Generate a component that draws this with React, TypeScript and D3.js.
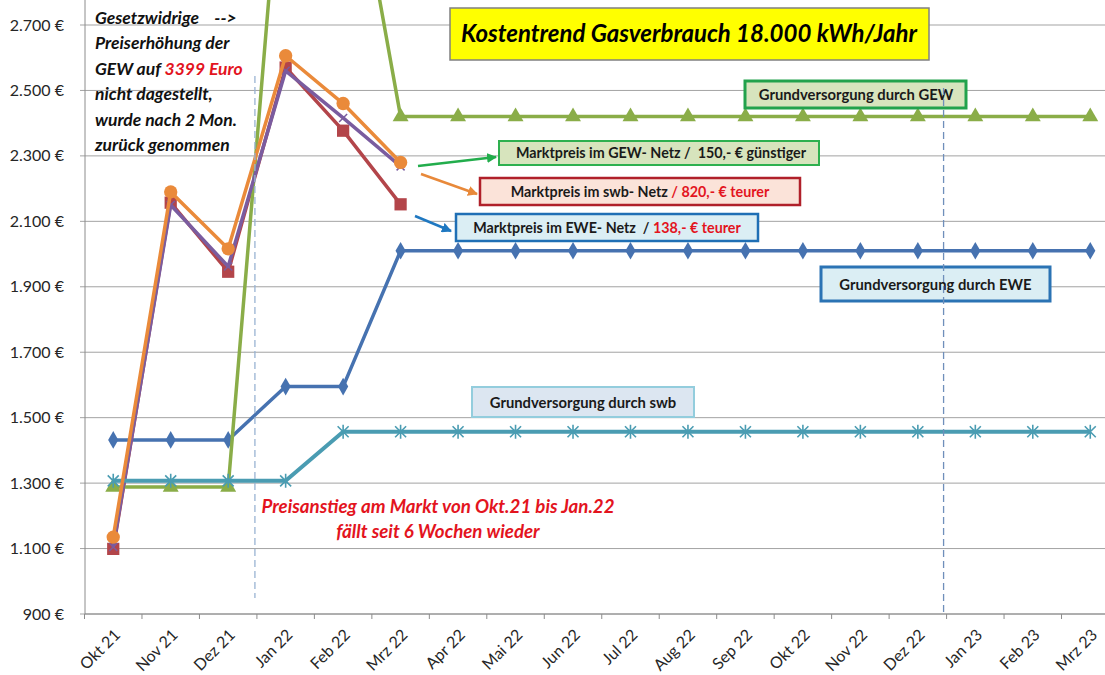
import React from 'react';
import * as d3 from 'd3';

// Monate auf der x-Achse
const months = ['Okt 21', 'Nov 21', 'Dez 21', 'Jan 22', 'Feb 22', 'Mrz 22', 'Apr 22', 'Mai 22', 'Jun 22',
  'Jul 22', 'Aug 22', 'Sep 22', 'Okt 22', 'Nov 22', 'Dez 22', 'Jan 23', 'Feb 23', 'Mrz 23'];

const yTicks = [900, 1100, 1300, 1500, 1700, 1900, 2100, 2300, 2500, 2700];

// Grundversorgung (ganze Zeitreihe)
const grundEwe = [1432, 1432, 1432, 1595, 1595, 2010, 2010, 2010, 2010, 2010, 2010, 2010, 2010, 2010, 2010, 2010, 2010, 2010];
const grundSwb = [1307, 1307, 1307, 1307, 1457, 1457, 1457, 1457, 1457, 1457, 1457, 1457, 1457, 1457, 1457, 1457, 1457, 1457];
const grundGew = [1288, 1288, 1288, 3399, 3399, 2420, 2420, 2420, 2420, 2420, 2420, 2420, 2420, 2420, 2420, 2420, 2420, 2420];

// Marktpreise (nur Okt 21 - Mrz 22)
const marktEwe = [1099, 2157, 1946, 2570, 2377, 2152];
const marktGew = [1105, 2150, 1962, 2560, 2416, 2268];
const marktSwb = [1135, 2190, 2016, 2606, 2460, 2280];

const W = 1105, H = 675;
const font = "Lato, 'Open Sans', sans-serif";

const x = d3.scaleBand<string>().domain(months).range([84.5, 1119]);
const y = d3.scaleLinear().domain([900, 2700]).range([614, 25]);
const cx = (i: number) => (x(months[i]) ?? 0) + x.bandwidth() / 2;

const de = d3.formatLocale({ decimal: ',', thousands: '.', grouping: [3], currency: ['', ' €'] });
const fmt = de.format(',.0f');

const line = d3.line<number>().x((_, i) => cx(i)).y(v => y(v));

// Excel-Reihenfolge: später gezeichnete Reihen liegen oben
const series = [
  { values: grundEwe, color: '#4672b0', marker: 'diamond', width: 3.5 },
  { values: marktEwe, color: '#b3454a', marker: 'square', width: 3.5 },
  { values: grundGew, color: '#8aad48', marker: 'triangle', width: 3.5 },
  { values: marktGew, color: '#7a5c9f', marker: 'x', width: 3.5 },
  { values: grundSwb, color: '#4a9cb2', marker: 'star', width: 4 },
  { values: marktSwb, color: '#ea8a3a', marker: 'circle', width: 3.5 },
];

const sym = {
  diamond: d3.symbol().type(d3.symbolDiamond).size(90)() as string,
  square: d3.symbol().type(d3.symbolSquare).size(150)() as string,
  triangle: d3.symbol().type(d3.symbolTriangle).size(110)() as string,
  circle: d3.symbol().type(d3.symbolCircle).size(140)() as string,
};

function Marker({ kind, color, px, py }: { kind: string; color: string; px: number; py: number }) {
  if (kind === 'star') {
    const s = 5.5;
    return (
      <path transform={`translate(${px},${py})`} stroke={color} strokeWidth={1.6} fill="none"
        d={`M${-s},${-s}L${s},${s}M${-s},${s}L${s},${-s}M0,${-s - 1.5}L0,${s + 1.5}`} />
    );
  }
  if (kind === 'x') {
    const s = 4;
    return (
      <path transform={`translate(${px},${py})`} stroke={color} strokeWidth={1.5} fill="none"
        d={`M${-s},${-s}L${s},${s}M${-s},${s}L${s},${-s}`} />
    );
  }
  return <path transform={`translate(${px},${py})`} d={(sym as any)[kind]} fill={color} />;
}

function Box({ x0, y0, x1, y1, fill, stroke, sw }: any) {
  return <rect x={x0} y={y0} width={x1 - x0} height={y1 - y0} fill={fill} stroke={stroke} strokeWidth={sw} />;
}

const App = () => {
  const plotLeft = 85, plotBottom = y(900);
  const red = '#e3141e';

  return (
    <div style={{ position: 'absolute', left: 0, top: 0 }}>
      <svg width={W} height={H} style={{ display: 'block', background: '#fff' }} fontFamily={font}>
        <defs>
          {[['g', '#22ad4c'], ['o', '#e8893a'], ['b', '#1f78c1']].map(([id, c]) => (
            <marker key={id} id={`ah-${id}`} viewBox="0 0 10 10" refX="9" refY="5"
              markerWidth="4" markerHeight="4" orient="auto">
              <path d="M0,0L10,5L0,10z" fill={c} />
            </marker>
          ))}
        </defs>

        {/* Gitterlinien und y-Achse */}
        {yTicks.map(t => (
          <g key={t}>
            <line x1={80} x2={W} y1={y(t)} y2={y(t)} stroke="#a3a3a3" strokeWidth={1} />
            <text x={64} y={y(t)} dy="0.35em" textAnchor="end" fontSize={16} fill="#262626">
              {fmt(t)} €
            </text>
          </g>
        ))}
        <line x1={plotLeft} x2={plotLeft} y1={0} y2={plotBottom} stroke="#8c8c8c" />
        <line x1={plotLeft} x2={W} y1={plotBottom} y2={plotBottom} stroke="#8c8c8c" />

        {/* x-Achse */}
        {months.map((m, i) => (
          <g key={m}>
            <line x1={x(m)} x2={x(m)} y1={plotBottom} y2={plotBottom + 5} stroke="#8c8c8c" />
            <text transform={`translate(${cx(i) + 8},${636}) rotate(-45)`} textAnchor="end"
              fontSize={16} fill="#262626">{m}</text>
          </g>
        ))}

        {/* Datenreihen */}
        {series.map((s, k) => (
          <g key={k}>
            <path d={line(s.values) as string} fill="none" stroke={s.color} strokeWidth={s.width}
              strokeLinejoin="round" />
            {s.values.map((v, i) => (
              <Marker key={i} kind={s.marker} color={s.color} px={cx(i)} py={y(v)} />
            ))}
          </g>
        ))}

        {/* Titel */}
        <Box x0={450} y0={8} x1={929} y1={60} fill="#ffff00" stroke="#808080" sw={1.5} />
        <text x={689} y={42} textAnchor="middle" fontSize={24} fontWeight="bold" fontStyle="italic" fill="#000">
          Kostentrend Gasverbrauch 18.000 kWh/Jahr
        </text>

        {/* Hinweis oben links */}
        <g fontSize={17.5} fontWeight="bold" fontStyle="italic" fill="#111">
          <text x={95} y={24} xmlSpace="preserve">Gesetzwidrige    --&gt;</text>
          <text x={95} y={49}>Preiserhöhung der</text>
          <text x={95} y={75}>GEW auf <tspan fill={red}>3399 Euro</tspan></text>
          <text x={95} y={100}>nicht dagestellt,</text>
          <text x={95} y={126}>wurde nach 2 Mon.</text>
          <text x={95} y={151}>zurück genommen</text>
        </g>

        {/* Grundversorgung-Boxen */}
        <g fontSize={14.8} fontWeight="bold" fill="#1a1a1a" textAnchor="middle">
          <Box x0={745} y0={81} x1={966} y1={108} fill="#d7e4bd" stroke="#22a24c" sw={3} />
          <text x={856} y={99.5}>Grundversorgung durch GEW</text>

          <Box x0={821} y0={267} x1={1050} y1={301} fill="#dbeef4" stroke="#2b73b4" sw={3} />
          <text x={935.5} y={289.5}>Grundversorgung durch EWE</text>

          <Box x0={472} y0={387} x1={694} y1={417} fill="#dce6f1" stroke="#93cddd" sw={2} />
          <text x={583} y={407.5}>Grundversorgung durch swb</text>
        </g>

        {/* Marktpreis-Boxen */}
        <g fontSize={14.3} fontWeight="bold" fill="#1a1a1a" textAnchor="middle">
          <Box x0={499} y0={141} x1={819} y1={165} fill="#d7e4bd" stroke="#2eb04f" sw={2} />
          <text x={661} y={158} xmlSpace="preserve">Marktpreis im GEW- Netz /  150,- € günstiger</text>

          <Box x0={480} y0={178} x1={800} y1={205} fill="#fbe3d9" stroke="#b0202a" sw={2.5} />
          <text x={640} y={197}>Marktpreis im swb- Netz <tspan fill={red}>/ 820,- € teurer</tspan></text>

          <Box x0={456} y0={214} x1={758} y1={241} fill="#dbeef4" stroke="#1f6fb5" sw={2.5} />
          <text x={607} y={233} xmlSpace="preserve">Marktpreis im EWE- Netz  / <tspan fill={red}>138,- € teurer</tspan></text>
        </g>

        {/* Pfeile */}
        <line x1={418} y1={166} x2={496} y2={157} stroke="#22ad4c" strokeWidth={2.5} markerEnd="url(#ah-g)" />
        <line x1={421} y1={174} x2={477} y2={194} stroke="#e8893a" strokeWidth={2.5} markerEnd="url(#ah-o)" />
        <line x1={415} y1={216} x2={451} y2={231} stroke="#1f78c1" strokeWidth={2.5} markerEnd="url(#ah-b)" />

        {/* Roter Hinweis */}
        <g fontSize={18.7} fontWeight="bold" fontStyle="italic" fill={red} textAnchor="middle">
          <text x={438} y={513}>Preisanstieg am Markt von Okt.21 bis Jan.22</text>
          <text x={438} y={538}>fällt seit 6 Wochen wieder</text>
        </g>

        {/* gestrichelte Markierungen */}
        <line x1={(x('Jan 22') ?? 0) - 2} x2={(x('Jan 22') ?? 0) - 2} y1={76} y2={598}
          stroke="#9ab3d3" strokeWidth={1.3} strokeDasharray="7,4" />
        <line x1={(x('Jan 23') ?? 0) - 3} x2={(x('Jan 23') ?? 0) - 3} y1={88} y2={plotBottom}
          stroke="#6f8fbb" strokeWidth={1.3} strokeDasharray="7,4" />
      </svg>
    </div>
  );
};

export default App;
